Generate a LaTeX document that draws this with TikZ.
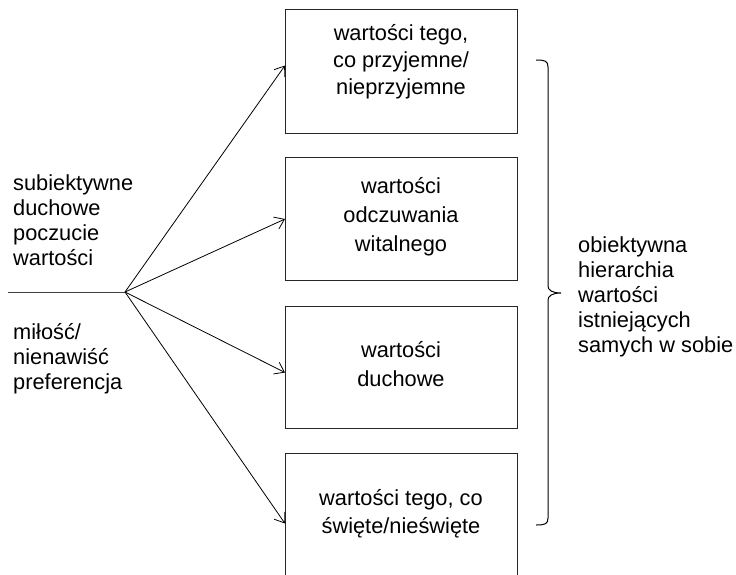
\documentclass[tikz,border=0pt]{standalone}
\usepackage{fontspec}
\setmainfont{Liberation Sans}
\usetikzlibrary{arrows.meta}
\begin{document}
\begin{tikzpicture}[x=1pt,y=-1pt,
  font=\fontsize{21.8}{25}\selectfont,
  box/.style={draw=black!85, line width=1pt, minimum width=232pt, anchor=north west, inner sep=0pt},
  arr/.style={-{Straight Barb[length=9pt,width=13pt]}, line width=0.8pt},
  lbl/.style={align=left, anchor=west, inner sep=0pt},
  boxtxt/.style={align=center, inner sep=0pt}]
\useasboundingbox (0,0) rectangle (736,574);
\clip (0,0) rectangle (736,574);
% boxes
\node[box, minimum height=124pt] (b1) at (285,9) {};
\node[box, minimum height=123pt] (b2) at (285,157) {};
\node[box, minimum height=122pt] (b3) at (285,306) {};
\node[box, minimum height=140pt] (b4) at (285,453) {};
% box texts
\node[boxtxt, font=\fontsize{21.8}{27}\selectfont] (t1) at (401,62) {wartości tego,\\co przyjemne/\\nieprzyjemne};
\node[boxtxt, font=\fontsize{21.8}{29}\selectfont] (t2) at (401,217) {wartości\\odczuwania\\witalnego};
\node[boxtxt, font=\fontsize{21.8}{29}\selectfont] (t3) at (401,364) {wartości\\duchowe};
\node[boxtxt, font=\fontsize{21.8}{28}\selectfont] (t4) at (401,514) {wartości tego, co\\święte/nieświęte};
% left and right texts
\node[lbl] (s) at (13,220) {subiektywne\\duchowe\\poczucie\\wartości};
\node[lbl] (m) at (13,359) {miłość/\\nienawiść\\preferencja};
\node[lbl] (h) at (578,297) {obiektywna\\hierarchia\\wartości\\istniejących\\samych w sobie};
% fan
\coordinate (l) at (8,292);
\coordinate (o) at (125,292);
\draw[line width=1pt, black!75] (l) -- (o);
\draw[arr] (o) -- ([yshift=6pt]b1.west);
\draw[arr] (o) -- (b2.west);
\draw[arr] (o) -- ([yshift=-5pt]b3.west);
\draw[arr] (o) -- (b4.west);
% brace
\draw[line width=1pt] (536,60) .. controls (545,60) and (548,61) .. (548,67)
  -- (548,286) .. controls (548,290) and (552,293) .. (561,293)
  .. controls (552,293) and (548,296) .. (548,300)
  -- (548,518) .. controls (548,524) and (545,525) .. (536,525);
\end{tikzpicture}
\end{document}
